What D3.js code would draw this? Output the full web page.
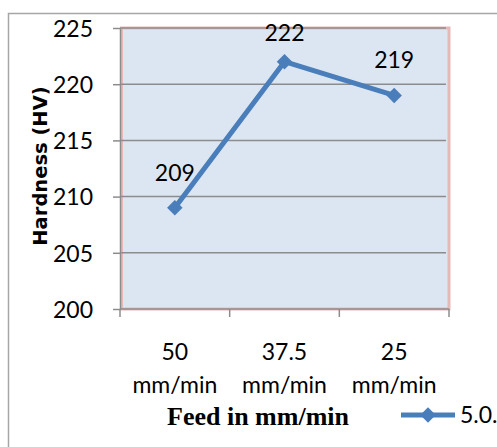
<!DOCTYPE html>
<html>
<head>
<meta charset="utf-8">
<script src="https://cdn.jsdelivr.net/npm/d3@7"></script>
<style>
  html, body { margin: 0; padding: 0; background: #fff; }
  svg { display: block; }
</style>
</head>
<body>
<svg id="chart" width="497" height="447"></svg>
<script>
// Hardness against feed rate
const categories = ["50 mm/min", "37.5 mm/min", "25 mm/min"];
const hardness = [209, 222, 219];
const yTicks = [200, 205, 210, 215, 220, 225];
const seriesName = "5.0.";
const xTitle = "Feed in mm/min";
const yTitle = "Hardness (HV)";

const svg = d3.select("#chart");
const W = 497, H = 447;
const plot = { left: 120, top: 28, right: 449, bottom: 309 };
const sans = "Lato, 'Open Sans', sans-serif";
const lineColor = "#4a7ebb";
const gridColor = "#8c8c8c";
const fs = 23;

// outer chart frame (continues past the right and bottom edges)
svg.append("rect")
  .attr("x", 8.5).attr("y", 13.5)
  .attr("width", W).attr("height", H)
  .attr("fill", "none").attr("stroke", "#a6a6a6").attr("stroke-width", 1.5);

const x = d3.scaleBand().domain(categories).range([plot.left, plot.right]);
const y = d3.scaleLinear().domain([200, 225]).range([plot.bottom, plot.top]);

// plot area with pink border
svg.append("rect")
  .attr("x", plot.left + 1.5).attr("y", plot.top)
  .attr("width", plot.right - plot.left - 1.5).attr("height", plot.bottom - plot.top)
  .attr("fill", "#dce6f2").attr("stroke", "#e6b9b8").attr("stroke-width", 3);

// horizontal gridlines
svg.append("g").selectAll("line").data(yTicks.filter(t => t > 200))
  .join("line")
  .attr("x1", plot.left).attr("x2", plot.right - 3)
  .attr("y1", d => y(d)).attr("y2", d => y(d))
  .attr("stroke", gridColor).attr("stroke-width", 1.5);

// y axis
const yAxis = svg.append("g")
  .attr("transform", `translate(${plot.left},0)`)
  .call(d3.axisLeft(y).tickValues(yTicks).tickSize(7).tickPadding(20).tickSizeOuter(0));
yAxis.select(".domain").attr("stroke", gridColor).attr("stroke-width", 1.5);
yAxis.selectAll(".tick line").attr("stroke", gridColor).attr("stroke-width", 1.5);
yAxis.selectAll(".tick text")
  .attr("font-family", sans).attr("font-size", fs).attr("fill", "#000")
  .attr("dy", "0.36em");

// x axis with ticks on category boundaries
const xAxisG = svg.append("g").attr("transform", `translate(0,${plot.bottom})`);
xAxisG.append("line")
  .attr("x1", plot.left).attr("x2", plot.right)
  .attr("stroke", gridColor).attr("stroke-width", 1.5);
const boundaries = categories.map(c => x(c)).concat([x(categories[categories.length - 1]) + x.bandwidth()]);
xAxisG.selectAll("line.tick").data(boundaries).join("line")
  .attr("class", "tick")
  .attr("x1", d => d).attr("x2", d => d)
  .attr("y1", 0).attr("y2", 8)
  .attr("stroke", gridColor).attr("stroke-width", 1.5);
const xLabels = xAxisG.selectAll("text.cat").data(categories).join("text")
  .attr("class", "cat")
  .attr("text-anchor", "middle")
  .attr("font-family", sans).attr("font-size", fs).attr("fill", "#000")
  .attr("x", d => x(d) + x.bandwidth() / 2);
xLabels.each(function(d) {
  const parts = d.split(" ");
  const t = d3.select(this);
  t.append("tspan").attr("x", x(d) + x.bandwidth() / 2).attr("y", 51).text(parts[0]);
  t.append("tspan").attr("x", x(d) + x.bandwidth() / 2).attr("y", 84).text(parts.slice(1).join(" "));
});

// axis titles
svg.append("text")
  .attr("x", 258).attr("y", 425)
  .attr("text-anchor", "middle")
  .attr("font-family", "'Liberation Serif', 'Times New Roman', serif")
  .attr("font-weight", "bold").attr("font-size", 26)
  .text(xTitle);
svg.append("text")
  .attr("transform", "translate(47,166) rotate(-90)")
  .attr("text-anchor", "middle")
  .attr("font-family", "'DejaVu Sans', sans-serif").attr("font-weight", "bold").attr("font-size", 19.5)
  .text(yTitle);

// series line
const cx = d => x(d) + x.bandwidth() / 2;
const pts = categories.map((c, i) => [cx(c), y(hardness[i])]);
svg.append("path")
  .attr("d", d3.line()(pts))
  .attr("fill", "none").attr("stroke", lineColor)
  .attr("stroke-width", 5).attr("stroke-linejoin", "round");

svg.append("g").selectAll("path").data(pts).join("path")
  .attr("transform", d => `translate(${d[0]},${d[1]}) rotate(45)`)
  .attr("d", d3.symbol().type(d3.symbolSquare).size(120))
  .attr("fill", lineColor);

// value labels above each point
svg.append("g").selectAll("text").data(pts).join("text")
  .attr("x", d => d[0])
  .attr("y", d => Math.max(d[1] - 27, 41))
  .attr("text-anchor", "middle")
  .attr("font-family", sans).attr("font-size", fs).attr("fill", "#000")
  .text((d, i) => hardness[i]);

// legend
const lg = svg.append("g").attr("transform", "translate(401,415)");
lg.append("line").attr("x1", 0).attr("x2", 54)
  .attr("stroke", lineColor).attr("stroke-width", 5);
lg.append("path")
  .attr("transform", "translate(27,0) rotate(45)")
  .attr("d", d3.symbol().type(d3.symbolSquare).size(120))
  .attr("fill", lineColor);
lg.append("text").attr("x", 59).attr("y", 8)
  .attr("font-family", sans).attr("font-size", fs).attr("fill", "#000")
  .text(seriesName);
</script>
</body>
</html>
